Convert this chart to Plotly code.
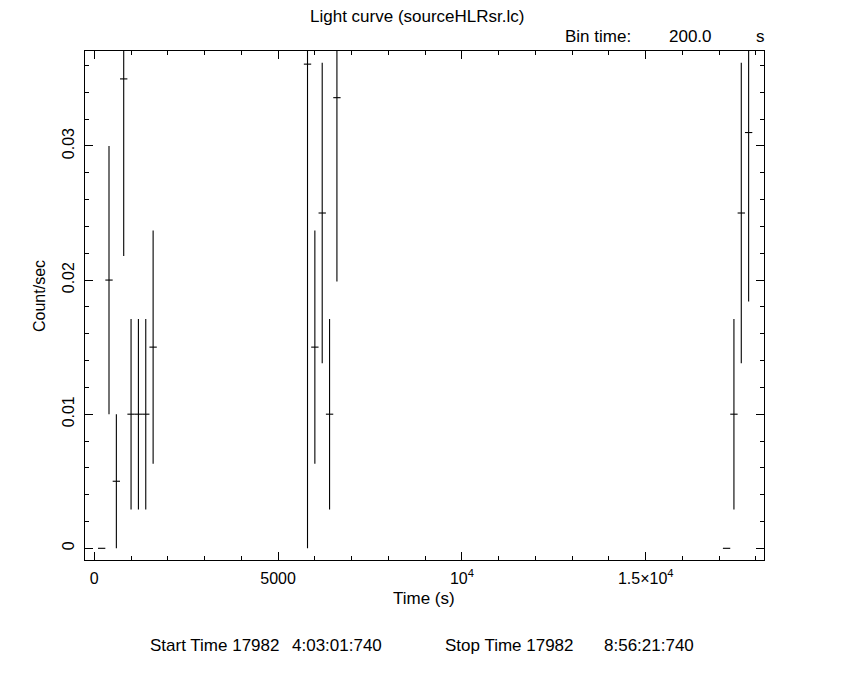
import plotly.graph_objects as go

# Data (bin time 200 s)
time_s = [200, 400, 600, 800, 1000, 1200, 1400, 1600,
          5800, 6000, 6200, 6400, 6600,
          17200, 17400, 17600, 17800]
rate = [0.0, 0.02, 0.005, 0.035, 0.01, 0.01, 0.01, 0.015,
        0.0361, 0.015, 0.025, 0.01, 0.0336,
        0.0, 0.01, 0.025, 0.031]
rate_err = [0.0, 0.01, 0.005, 0.0132, 0.0071, 0.0071, 0.0071, 0.0087,
            0.0361, 0.0087, 0.0112, 0.0071, 0.0137,
            0.0, 0.0071, 0.0112, 0.0126]
half_bin = [100] * len(time_s)

x_tickvals = [0, 5000, 10000, 15000]
x_ticktext = ["0", "5000", "10<sup>4</sup>", "1.5×10<sup>4</sup>"]
y_tickvals = [0, 0.01, 0.02, 0.03]
y_ticktext = ["0", "0.01", "0.02", "0.03"]

FONT = "Liberation Sans"

fig = go.Figure()
fig.add_trace(go.Scatter(
    x=time_s, y=rate, mode="markers",
    marker=dict(size=1, color="black", opacity=0),
    error_x=dict(type="data", array=half_bin, color="black", thickness=1.1, width=0),
    error_y=dict(type="data", array=rate_err, color="black", thickness=1.1, width=0),
    showlegend=False, hoverinfo="skip",
))

OFF = 8  # page body margin
L, R, T, B = 85, 764, 51, 560   # plot area in page pixels
W, H = 850 - OFF, 680 - OFF

def px(xp):
    return (xp - L) / (R - L)

def py(yp):
    return (B - yp) / (B - T)

fig.update_layout(
    width=W, height=H,
    margin=dict(l=L - OFF, r=W - (R - OFF), t=T - OFF, b=H - (B - OFF)),
    paper_bgcolor="white", plot_bgcolor="white",
    font=dict(family=FONT, size=16, color="black"),
    xaxis=dict(
        range=[-253, 18218], showgrid=False, zeroline=False,
        showline=True, linecolor="black", linewidth=1, mirror="allticks",
        ticks="inside", ticklen=8, tickcolor="black", tickwidth=1,
        tickvals=x_tickvals, ticktext=x_ticktext,
        minor=dict(dtick=1000, tick0=0, ticks="inside", ticklen=4, tickcolor="black", showgrid=False),
        tickfont=dict(size=16), ticklabelstandoff=4,
    ),
    yaxis=dict(
        range=[-0.000872, 0.03708], showgrid=False, zeroline=False,
        showline=True, linecolor="black", linewidth=1, mirror="allticks",
        ticks="inside", ticklen=8, tickcolor="black", tickwidth=1,
        tickvals=y_tickvals, ticktext=y_ticktext, tickangle=-90,
        minor=dict(dtick=0.002, tick0=0, ticks="inside", ticklen=4, tickcolor="black", showgrid=False),
        tickfont=dict(size=16), ticklabelstandoff=4,
    ),
)

def ann(text, xp, yp, xanchor="center", angle=0, size=17):
    fig.add_annotation(text=text, x=px(xp), y=py(yp), xref="paper", yref="paper",
                       xanchor=xanchor, yanchor="middle", showarrow=False,
                       textangle=angle, font=dict(family=FONT, size=size, color="black"))

ann("Light curve (sourceHLRsr.lc)", 417, 17)
ann("Bin time:", 563, 37, xanchor="left")
ann("200.0", 667, 37, xanchor="left")
ann("s", 754, 37, xanchor="left")
ann("Time (s)", 424, 598)
ann("Count/sec", 39, 296, angle=-90, size=16)
ann("Start Time 17982", 148, 645, xanchor="left")
ann("4:03:01:740", 290, 645, xanchor="left")
ann("Stop Time 17982", 443, 645, xanchor="left")
ann("8:56:21:740", 602, 645, xanchor="left")

fig.write_html("out.html")
